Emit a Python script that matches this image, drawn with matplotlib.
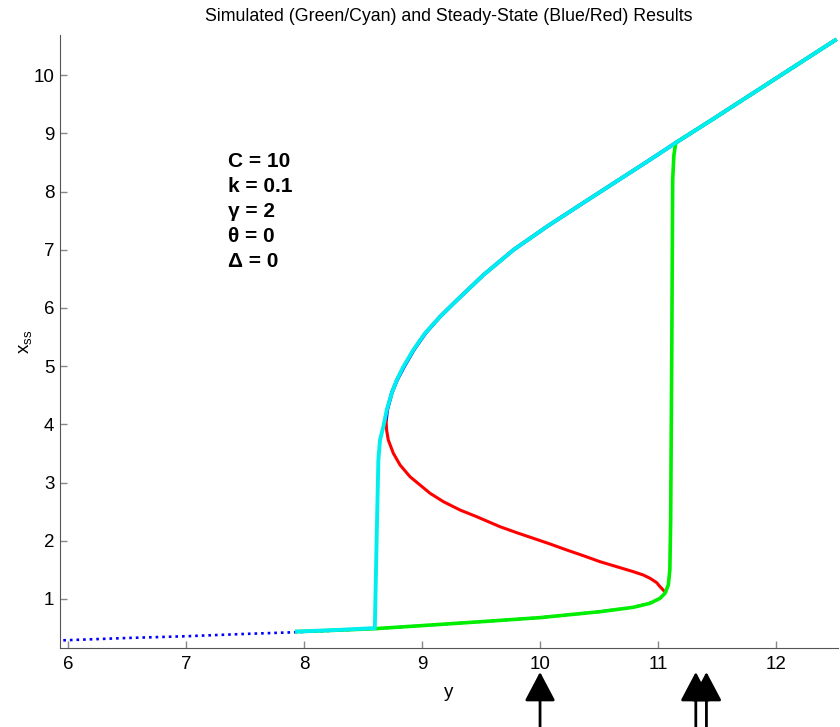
import matplotlib
matplotlib.use("Agg")
import matplotlib.pyplot as plt

plt.rcParams["font.family"] = ["Liberation Sans", "DejaVu Sans"]

# steady-state branches (input y, state x_ss)
lower_y = [5.96, 6.5, 7.0, 7.5, 7.94, 8.3, 8.6, 8.98, 9.5, 10.0, 10.5, 10.79, 10.93, 11.02, 11.06]
lower_x = [0.29, 0.33, 0.36, 0.40, 0.43, 0.46, 0.49, 0.54, 0.61, 0.68, 0.78, 0.86, 0.93, 1.01, 1.12]

unstable_y = [11.06, 11.017, 10.989, 10.932, 10.875, 10.791, 10.650, 10.508, 10.367, 10.226,
              10.085, 9.943, 9.803, 9.661, 9.463, 9.322, 9.181, 9.068, 8.983, 8.898,
              8.814, 8.757, 8.714, 8.700, 8.695]
unstable_x = [1.12, 1.211, 1.280, 1.356, 1.412, 1.469, 1.555, 1.641, 1.744, 1.842,
              1.945, 2.043, 2.139, 2.242, 2.414, 2.529, 2.672, 2.816, 2.959, 3.101,
              3.302, 3.503, 3.732, 3.900, 4.080]

upper_y = [8.695, 8.705, 8.745, 8.79, 8.85, 8.93, 9.03, 9.153, 9.297, 9.520, 9.774, 10.057,
           10.339, 10.621, 10.904, 11.144, 11.469, 11.751, 12.034, 12.316, 12.50]
upper_x = [4.08, 4.25, 4.55, 4.77, 5.00, 5.28, 5.57, 5.851, 6.137, 6.567, 6.997, 7.397,
           7.77, 8.14, 8.51, 8.83, 9.25, 9.62, 9.99, 10.36, 10.60]

# simulated sweeps: y increasing (green) and y decreasing (cyan)
up_sweep_y = [7.94, 8.3, 8.6, 8.98, 9.5, 10.0, 10.508, 10.79, 10.932, 11.017, 11.059, 11.087,
              11.10, 11.107, 11.116, 11.124, 11.134, 11.15, 11.469, 11.751, 12.034, 12.316, 12.50]
up_sweep_x = [0.44, 0.465, 0.49, 0.54, 0.61, 0.68, 0.782, 0.857, 0.926, 1.012, 1.098, 1.241,
              1.498, 2.357, 5.107, 8.20, 8.62, 8.84, 9.25, 9.62, 9.99, 10.36, 10.60]

down_sweep_y = [12.50, 12.316, 12.034, 11.751, 11.469, 11.144, 10.904, 10.621, 10.339, 10.057,
                9.774, 9.520, 9.297, 9.153, 9.025, 8.926, 8.842, 8.786, 8.743, 8.701, 8.672,
                8.644, 8.630, 8.615, 8.60, 8.3, 7.94]
down_sweep_x = [10.60, 10.36, 9.99, 9.62, 9.25, 8.83, 8.51, 8.14, 7.77, 7.397,
                6.997, 6.567, 6.137, 5.851, 5.565, 5.278, 4.991, 4.763, 4.534, 4.247, 3.960,
                3.732, 3.388, 2.0, 0.50, 0.47, 0.44]

arrow_y = [10.0, 11.32, 11.41]

params = ["C = 10", "k = 0.1", "\u03b3 = 2", "\u03b8 = 0", "\u0394 = 0"]

fig = plt.figure(figsize=(8.4, 7.27), dpi=100)
ax = fig.add_axes([60 / 840, 1 - 648 / 727, 778 / 840, 613 / 727])

ax.plot(lower_y, lower_x, color="#0000ff", lw=1.9, linestyle=(0, (1, 1.5)))
ax.plot(upper_y, upper_x, color="#0000ff", lw=2.6)
ax.plot(unstable_y, unstable_x, color="#ff0000", lw=2.2)
ax.plot(up_sweep_y, up_sweep_x, color="#00ee00", lw=2.6)
ax.plot(down_sweep_y, down_sweep_x, color="#00eeee", lw=2.8)

ax.set_xlim(5.932, 12.525)
ax.set_ylim(0.158, 10.69)
ax.set_xticks(range(6, 13))
ax.set_yticks(range(1, 11))

for side in ("top", "right"):
    ax.spines[side].set_visible(False)
for side in ("left", "bottom"):
    ax.spines[side].set_color("#555555")
ax.tick_params(direction="in", length=5, width=1, color="#888888", labelsize=13.5)
ax.tick_params(axis="y", pad=4)
ax.tick_params(axis="x", pad=6)

ax.set_title("Simulated (Green/Cyan) and Steady-State (Blue/Red) Results",
             fontsize=12.8, pad=10)
ax.set_xlabel("y", fontsize=13.5, labelpad=8)
ax.set_ylabel(r"$\mathregular{x_{ss}}$", fontsize=13.5, labelpad=0)

# parameter block, one baseline every 25 px
for i, line in enumerate(params):
    fig.text(228 / 840, 1 - (167 + 25 * i) / 727, line, fontsize=15,
             fontweight="bold", va="baseline", ha="left")

for yv in arrow_y:
    ax.annotate("", xy=(yv, -0.254), xytext=(yv, -1.4), annotation_clip=False,
                arrowprops=dict(arrowstyle="-|>,head_length=1.8,head_width=0.95",
                                lw=2, color="black", shrinkA=0, shrinkB=0))

fig.savefig("out.png", dpi=100)
